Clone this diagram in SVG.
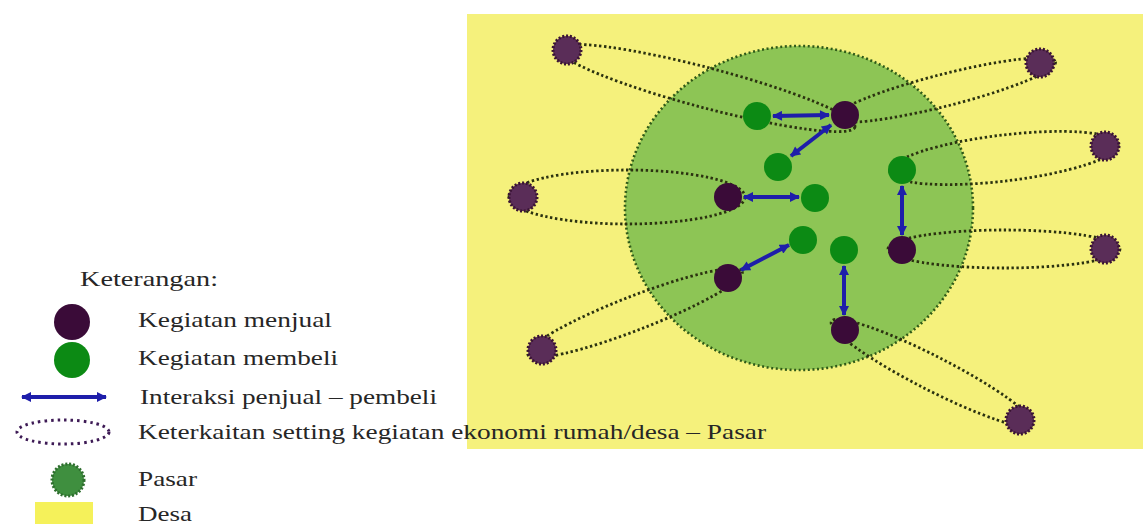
<svg xmlns="http://www.w3.org/2000/svg" width="1148" height="524" viewBox="0 0 1148 524">
  <style>
    .txt { font-family: "Liberation Serif", "Times New Roman", serif; font-size: 21px; fill: #262626; }
    .link { fill: none; stroke: #2b3210; stroke-width: 2.8; stroke-dasharray: 2.4 2.6; }
    .seller { fill: #3a0b38; }
    .buyer { fill: #0c8a14; }
    .home { fill: #5a2d58; stroke: #3a1434; stroke-width: 3; stroke-dasharray: 2 1.8; }
    .arrow { stroke: #1e1eaa; stroke-width: 4; fill: none; marker-start: url(#head); marker-end: url(#head); }
  </style>
  <defs>
    <marker id="head" viewBox="0 0 10 10" refX="9" refY="5" markerWidth="11" markerHeight="10" markerUnits="userSpaceOnUse" orient="auto-start-reverse">
      <path d="M0,0 L10,5 L0,10 z" fill="#1e1eaa"/>
    </marker>
  </defs>

  <!-- village area -->
  <rect id="desa" x="467" y="14" width="676" height="435" fill="#f5f17c"/>

  <!-- market area -->
  <ellipse id="pasar" cx="799" cy="208" rx="174" ry="162" fill="#8dc555" stroke="#2f5a18" stroke-width="2.6" stroke-dasharray="2 2.6"/>

  <!-- links between homes and market sellers -->
  <g id="links">
    <ellipse class="link" cx="707" cy="88" rx="153" ry="20" transform="rotate(14.8 707 88)"/>
    <ellipse class="link" cx="945" cy="90" rx="114" ry="16" transform="rotate(-14.3 945 90)"/>
    <ellipse class="link" cx="627" cy="197" rx="118" ry="27"/>
    <ellipse class="link" cx="1004" cy="158" rx="115" ry="23" transform="rotate(-6.8 1004 158)"/>
    <ellipse class="link" cx="1004" cy="249" rx="116" ry="19"/>
    <ellipse class="link" cx="635" cy="313" rx="115" ry="17" transform="rotate(-21.2 635 313)"/>
    <ellipse class="link" cx="932" cy="373" rx="113" ry="17" transform="rotate(27.1 932 373)"/>
  </g>

  <!-- homes in the village -->
  <g id="homes">
    <circle class="home" cx="567" cy="50" r="14"/>
    <circle class="home" cx="523" cy="197" r="14"/>
    <circle class="home" cx="542" cy="350" r="14"/>
    <circle class="home" cx="1040" cy="63" r="14"/>
    <circle class="home" cx="1105" cy="146" r="14"/>
    <circle class="home" cx="1105" cy="249" r="14"/>
    <circle class="home" cx="1020" cy="420" r="14"/>
  </g>

  <!-- sellers -->
  <g id="sellers">
    <circle class="seller" cx="845" cy="115" r="14"/>
    <circle class="seller" cx="728" cy="197" r="14"/>
    <circle class="seller" cx="902" cy="250" r="14"/>
    <circle class="seller" cx="728" cy="278" r="14"/>
    <circle class="seller" cx="845" cy="330" r="14"/>
  </g>

  <!-- buyers -->
  <g id="buyers">
    <circle class="buyer" cx="757" cy="116" r="14"/>
    <circle class="buyer" cx="778" cy="167" r="14"/>
    <circle class="buyer" cx="815" cy="198" r="14"/>
    <circle class="buyer" cx="902" cy="170" r="14"/>
    <circle class="buyer" cx="803" cy="240" r="14"/>
    <circle class="buyer" cx="844" cy="250" r="14"/>
  </g>

  <!-- seller/buyer interactions -->
  <g id="interactions">
    <line class="arrow" x1="773" y1="116" x2="829" y2="115"/>
    <line class="arrow" x1="831" y1="125" x2="791" y2="156"/>
    <line class="arrow" x1="744" y1="197" x2="799" y2="197"/>
    <line class="arrow" x1="902" y1="186" x2="902" y2="235"/>
    <line class="arrow" x1="789" y1="245" x2="741" y2="270"/>
    <line class="arrow" x1="844" y1="266" x2="844" y2="315"/>
  </g>

  <!-- legend -->
  <g id="legend">
    <text class="txt" x="80" y="286" textLength="138" lengthAdjust="spacingAndGlyphs">Keterangan:</text>

    <g id="legend-seller">
      <circle cx="72" cy="322" r="18" fill="#3a0b38"/>
      <text class="txt" x="138" y="327" textLength="194" lengthAdjust="spacingAndGlyphs">Kegiatan menjual</text>
    </g>
    <g id="legend-buyer">
      <circle cx="72" cy="360" r="18" fill="#0c8a14"/>
      <text class="txt" x="138" y="365" textLength="200" lengthAdjust="spacingAndGlyphs">Kegiatan membeli</text>
    </g>
    <g id="legend-interaction">
      <line class="arrow" x1="22" y1="397" x2="106" y2="397"/>
      <text class="txt" x="140" y="404" textLength="297" lengthAdjust="spacingAndGlyphs">Interaksi penjual – pembeli</text>
    </g>
    <g id="legend-link">
      <ellipse cx="63" cy="432" rx="46" ry="12" fill="none" stroke="#3d1a55" stroke-width="3" stroke-dasharray="2.5 4"/>
      <text class="txt" x="138" y="439" textLength="628" lengthAdjust="spacingAndGlyphs">Keterkaitan setting kegiatan ekonomi rumah/desa – Pasar</text>
    </g>
    <g id="legend-pasar">
      <circle cx="68" cy="480" r="16" fill="#3f8f3f" stroke="#2e6e2e" stroke-width="3" stroke-dasharray="2 1.8"/>
      <text class="txt" x="138" y="486" textLength="59" lengthAdjust="spacingAndGlyphs">Pasar</text>
    </g>
    <g id="legend-desa">
      <rect x="35" y="502" width="58" height="22" fill="#f5f15a"/>
      <text class="txt" x="138" y="521" textLength="54" lengthAdjust="spacingAndGlyphs">Desa</text>
    </g>
  </g>
</svg>
